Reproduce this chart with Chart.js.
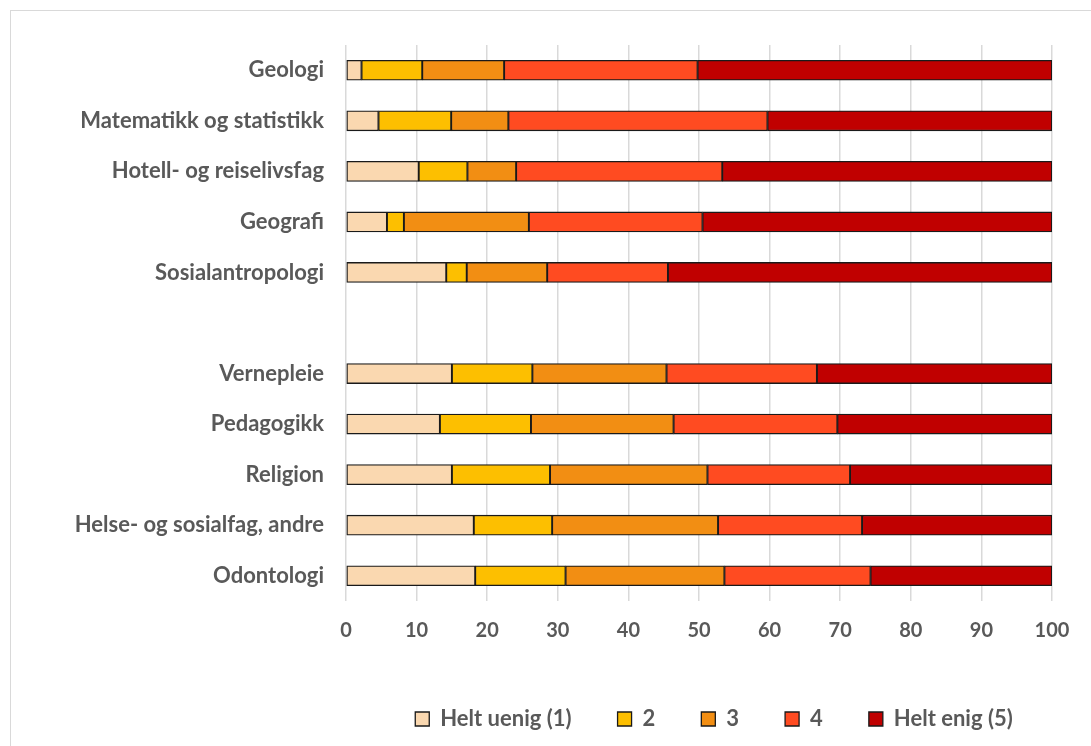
<!DOCTYPE html>
<html>
<head>
<meta charset="utf-8">
<script src="https://cdn.jsdelivr.net/npm/chart.js@4"></script>
<style>
  html, body { margin: 0; padding: 0; background: #fff; overflow: hidden; }
  #frame { position: absolute; left: 10px; top: 10px; width: 1200px; height: 900px; border: 1px solid #d9d9d9; }
  #wrap { position: absolute; left: 0; top: 0; width: 1091px; height: 800px; }
</style>
</head>
<body>
<div id="frame"></div>
<div id="wrap"><canvas id="myChart"></canvas></div>
<script>
// categories, top to bottom ('' is the empty gap row)
const categories = ['Geologi', 'Matematikk og statistikk', 'Hotell- og reiselivsfag', 'Geografi', 'Sosialantropologi', '',
    'Vernepleie', 'Pedagogikk', 'Religion', 'Helse- og sosialfag, andre', 'Odontologi'];

const helt_uenig = [2.2, 4.6, 10.3, 5.8, 14.2, null, 15.0, 13.3, 15.0, 18.1, 18.3];
const svar2      = [8.6, 10.3, 6.9, 2.4, 2.9, null, 11.4, 12.9, 13.9, 11.1, 12.8];
const svar3      = [11.6, 8.1, 6.9, 17.7, 11.4, null, 19.0, 20.2, 22.3, 23.5, 22.5];
const svar4      = [27.4, 36.7, 29.2, 24.6, 17.1, null, 21.3, 23.2, 20.2, 20.4, 20.7];
const helt_enig  = [50.2, 40.3, 46.7, 49.5, 54.4, null, 33.3, 30.4, 28.6, 26.9, 25.7];

const seriesNames = ['Helt uenig (1)', '2', '3', '4', 'Helt enig (5)'];
const colors = ['#fad8b0', '#fdbf00', '#f28e13', '#ff4b21', '#c00000'];
const xTicks = [0, 10, 20, 30, 40, 50, 60, 70, 80, 90, 100];

const textColor = '#595959';
const font = { family: 'Lato', size: 20, weight: 'bold' };
const catFont = { family: 'Lato', size: 22, weight: 'bold' };

const ctx = document.getElementById('myChart').getContext('2d');
const allData = [helt_uenig, svar2, svar3, svar4, helt_enig];

// nudge the legend a bit to the right, like the original
const legendShift = {
    id: 'legendShift',
    afterLayout(chart) {
        chart.legend.left += 15;
        chart.legend.right += 15;
    }
};

new Chart(ctx, {
    type: 'bar',
    data: {
        labels: categories,
        datasets: allData.map((d, i) => ({
            label: seriesNames[i],
            data: d,
            backgroundColor: colors[i],
            borderColor: '#1a1a1a',
            borderWidth: 1.3,
            borderSkipped: false,
            barThickness: 20
        }))
    },
    plugins: [legendShift],
    options: {
        indexAxis: 'y',
        responsive: true,
        maintainAspectRatio: false,
        animation: false,
        layout: { padding: { left: 0, right: 39, top: 45, bottom: 60 } },
        scales: {
            x: {
                stacked: true,
                min: 0,
                max: 100,
                afterBuildTicks: s => { s.ticks = xTicks.map(v => ({ value: v })); },
                afterFit: s => { s.height = 61; },
                grid: { color: '#d9d9d9', lineWidth: 1.5, drawTicks: false },
                border: { display: false },
                ticks: { color: textColor, font: font, padding: 18 }
            },
            y: {
                stacked: true,
                afterFit: s => { s.width = 346; },
                grid: { display: false, drawTicks: false },
                border: { display: false },
                ticks: { color: textColor, font: catFont, padding: 22 }
            }
        },
        plugins: {
            legend: {
                position: 'bottom',
                fullSize: false,
                labels: {
                    color: textColor,
                    font: catFont,
                    boxWidth: 14,
                    boxHeight: 14,
                    padding: 46
                }
            },
            tooltip: { enabled: false }
        }
    }
});
</script>
</body>
</html>
